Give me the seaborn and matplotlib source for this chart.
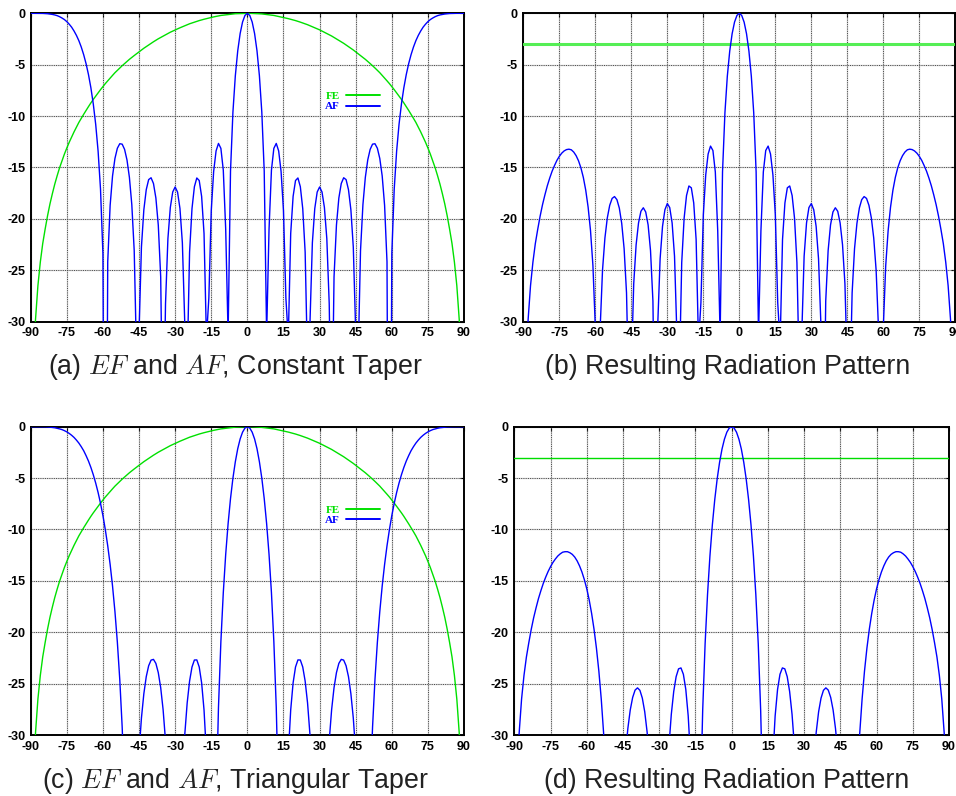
import numpy as np
import pandas as pd
import matplotlib
matplotlib.use("Agg")
import matplotlib.pyplot as plt
import seaborn as sns

# Observation angle in degrees, one sample per degree
angles = np.arange(-90, 91)

# Element factor (dB), shared by the two taper cases
element_factor = [
    -60.00, -36.00, -29.80, -26.50, -24.20, -22.40, -21.00, -19.70, -18.55, -17.55,
    -16.62, -15.80, -15.03, -14.35, -13.70, -13.11, -12.55, -12.04, -11.54, -11.07,
    -10.62, -10.22, -9.83, -9.45, -9.08, -8.72, -8.38, -8.06, -7.74, -7.43,
    -7.13, -6.84, -6.57, -6.30, -6.04, -5.78, -5.55, -5.32, -5.10, -4.89,
    -4.68, -4.48, -4.29, -4.11, -3.93, -3.75, -3.57, -3.40, -3.24, -3.08,
    -2.92, -2.77, -2.62, -2.48, -2.35, -2.21, -2.08, -1.96, -1.84, -1.73,
    -1.61, -1.51, -1.41, -1.31, -1.21, -1.11, -1.02, -0.94, -0.86, -0.78,
    -0.71, -0.64, -0.58, -0.52, -0.46, -0.40, -0.35, -0.30, -0.26, -0.21,
    -0.18, -0.14, -0.11, -0.09, -0.06, -0.04, -0.03, -0.02, -0.01, 0.00,
    0.00,
    0.00, -0.01, -0.02, -0.03, -0.04, -0.06, -0.09, -0.11, -0.14, -0.18,
    -0.21, -0.26, -0.30, -0.35, -0.40, -0.46, -0.52, -0.58, -0.64, -0.71,
    -0.78, -0.86, -0.94, -1.02, -1.11, -1.21, -1.31, -1.41, -1.51, -1.61,
    -1.73, -1.84, -1.96, -2.08, -2.21, -2.35, -2.48, -2.62, -2.77, -2.92,
    -3.08, -3.24, -3.40, -3.57, -3.75, -3.93, -4.11, -4.29, -4.48, -4.68,
    -4.89, -5.10, -5.32, -5.55, -5.78, -6.04, -6.30, -6.57, -6.84, -7.13,
    -7.43, -7.74, -8.06, -8.38, -8.72, -9.08, -9.45, -9.83, -10.22, -10.62,
    -11.07, -11.54, -12.04, -12.55, -13.11, -13.70, -14.35, -15.03, -15.80, -16.62,
    -17.55, -18.55, -19.70, -21.00, -22.40, -24.20, -26.50, -29.80, -36.00, -60.00,
]

# Array factor with a constant taper (dB)
af_constant = [
    0.00, 0.00, 0.00, 0.00, -0.01, -0.01, -0.02, -0.04, -0.07, -0.11,
    -0.16, -0.23, -0.33, -0.46, -0.61, -0.81, -1.06, -1.35, -1.72, -2.15,
    -2.66, -3.28, -4.02, -4.90, -5.96, -7.24, -8.82, -10.80, -13.41, -17.10,
    -23.37, -75.00, -24.18, -18.69, -15.82, -14.12, -13.13, -12.69, -12.73, -13.24,
    -14.27, -15.96, -18.61, -23.09, -33.76, -31.00, -22.74, -19.12, -17.16, -16.18,
    -16.00, -16.56, -17.97, -20.61, -25.64, -43.19, -28.26, -21.92, -18.89, -17.38,
    -16.90, -17.39, -18.99, -22.32, -30.14, -34.33, -23.23, -19.00, -16.87, -16.02,
    -16.27, -17.81, -21.42, -31.63, -27.70, -19.20, -15.38, -13.39, -12.66, -13.14,
    -15.26, -21.01, -31.28, -15.35, -9.62, -6.08, -3.65, -1.97, -0.85, -0.21,
    0.00,
    -0.21, -0.85, -1.97, -3.65, -6.08, -9.62, -15.35, -31.28, -21.01, -15.26,
    -13.14, -12.66, -13.39, -15.38, -19.20, -27.70, -31.63, -21.42, -17.81, -16.27,
    -16.02, -16.87, -19.00, -23.23, -34.33, -30.14, -22.32, -18.99, -17.39, -16.90,
    -17.38, -18.89, -21.92, -28.26, -43.19, -25.64, -20.61, -17.97, -16.56, -16.00,
    -16.18, -17.16, -19.12, -22.74, -31.00, -33.76, -23.09, -18.61, -15.96, -14.27,
    -13.24, -12.73, -12.69, -13.13, -14.12, -15.82, -18.69, -24.18, -75.00, -23.37,
    -17.10, -13.41, -10.80, -8.82, -7.24, -5.96, -4.90, -4.02, -3.28, -2.66,
    -2.15, -1.72, -1.35, -1.06, -0.81, -0.61, -0.46, -0.33, -0.23, -0.16,
    -0.11, -0.07, -0.04, -0.02, -0.01, -0.01, 0.00, 0.00, 0.00, 0.00,
]

# Resulting radiation pattern, constant taper (dB)
pattern_constant = [
    -60.00, -36.00, -29.80, -26.50, -24.21, -22.41, -21.02, -19.74, -18.62, -17.66,
    -16.78, -16.03, -15.36, -14.81, -14.31, -13.92, -13.61, -13.39, -13.26, -13.22,
    -13.28, -13.50, -13.85, -14.35, -15.04, -15.96, -17.20, -18.86, -21.15, -24.53,
    -30.50, -81.80, -30.75, -24.99, -21.86, -19.90, -18.68, -18.01, -17.83, -18.13,
    -18.95, -20.44, -22.90, -27.20, -37.69, -34.75, -26.31, -22.52, -20.40, -19.26,
    -18.92, -19.33, -20.59, -23.09, -27.99, -45.40, -30.34, -23.88, -20.73, -19.11,
    -18.51, -18.90, -20.40, -23.63, -31.35, -35.44, -24.25, -19.94, -17.73, -16.80,
    -16.98, -18.45, -22.00, -32.15, -28.16, -19.60, -15.73, -13.69, -12.92, -13.35,
    -15.44, -21.15, -31.39, -15.44, -9.68, -6.12, -3.68, -1.99, -0.86, -0.21,
    0.00,
    -0.21, -0.86, -1.99, -3.68, -6.12, -9.68, -15.44, -31.39, -21.15, -15.44,
    -13.35, -12.92, -13.69, -15.73, -19.60, -28.16, -32.15, -22.00, -18.45, -16.98,
    -16.80, -17.73, -19.94, -24.25, -35.44, -31.35, -23.63, -20.40, -18.90, -18.51,
    -19.11, -20.73, -23.88, -30.34, -45.40, -27.99, -23.09, -20.59, -19.33, -18.92,
    -19.26, -20.40, -22.52, -26.31, -34.75, -37.69, -27.20, -22.90, -20.44, -18.95,
    -18.13, -17.83, -18.01, -18.68, -19.90, -21.86, -24.99, -30.75, -81.80, -30.50,
    -24.53, -21.15, -18.86, -17.20, -15.96, -15.04, -14.35, -13.85, -13.50, -13.28,
    -13.22, -13.26, -13.39, -13.61, -13.92, -14.31, -14.81, -15.36, -16.03, -16.78,
    -17.66, -18.62, -19.74, -21.02, -22.41, -24.21, -26.50, -29.80, -36.00, -60.00,
]

# Array factor with a triangular taper (dB)
af_triangular = [
    0.00, 0.00, 0.00, 0.00, 0.00, -0.01, -0.01, -0.02, -0.04, -0.07,
    -0.10, -0.15, -0.21, -0.28, -0.38, -0.50, -0.65, -0.83, -1.04, -1.30,
    -1.59, -1.94, -2.33, -2.81, -3.34, -3.96, -4.67, -5.48, -6.40, -7.45,
    -8.64, -10.02, -11.59, -13.40, -15.51, -18.00, -20.97, -24.60, -29.22, -35.47,
    -45.08, -66.90, -61.00, -44.39, -36.60, -31.72, -28.35, -25.98, -24.32, -23.26,
    -22.71, -22.64, -23.03, -23.93, -25.39, -27.53, -30.55, -34.88, -41.41, -53.10,
    -100.00, -52.90, -41.07, -34.40, -29.96, -26.88, -24.75, -23.38, -22.70, -22.69,
    -23.38, -24.92, -27.56, -31.87, -39.33, -56.80, -57.40, -36.95, -27.31, -20.91,
    -16.15, -12.42, -9.43, -6.99, -5.01, -3.41, -2.14, -1.19, -0.53, -0.13,
    0.00,
    -0.13, -0.53, -1.19, -2.14, -3.41, -5.01, -6.99, -9.43, -12.42, -16.15,
    -20.91, -27.31, -36.95, -57.40, -56.80, -39.33, -31.87, -27.56, -24.92, -23.38,
    -22.69, -22.70, -23.38, -24.75, -26.88, -29.96, -34.40, -41.07, -52.90, -100.00,
    -53.10, -41.41, -34.88, -30.55, -27.53, -25.39, -23.93, -23.03, -22.64, -22.71,
    -23.26, -24.32, -25.98, -28.35, -31.72, -36.60, -44.39, -61.00, -66.90, -45.08,
    -35.47, -29.22, -24.60, -20.97, -18.00, -15.51, -13.40, -11.59, -10.02, -8.64,
    -7.45, -6.40, -5.48, -4.67, -3.96, -3.34, -2.81, -2.33, -1.94, -1.59,
    -1.30, -1.04, -0.83, -0.65, -0.50, -0.38, -0.28, -0.21, -0.15, -0.10,
    -0.07, -0.04, -0.02, -0.01, -0.01, 0.00, 0.00, 0.00, 0.00, 0.00,
]

# Resulting radiation pattern, triangular taper (dB)
pattern_triangular = [
    -60.00, -36.00, -29.80, -26.50, -24.20, -22.41, -21.01, -19.72, -18.59, -17.62,
    -16.72, -15.95, -15.24, -14.63, -14.08, -13.61, -13.20, -12.87, -12.58, -12.37,
    -12.21, -12.16, -12.16, -12.26, -12.42, -12.68, -13.05, -13.54, -14.14, -14.88,
    -15.77, -16.86, -18.16, -19.70, -21.55, -23.78, -26.52, -29.92, -34.32, -40.36,
    -49.76, -71.40, -65.30, -48.50, -40.53, -35.47, -31.92, -29.38, -27.56, -26.34,
    -25.63, -25.41, -25.65, -26.41, -27.74, -29.74, -32.63, -36.84, -43.25, -54.80,
    -100.00, -54.40, -42.48, -35.71, -31.17, -27.99, -25.77, -24.32, -23.56, -23.47,
    -24.09, -25.56, -28.14, -32.39, -39.79, -57.20, -57.75, -37.25, -27.57, -21.12,
    -16.33, -12.56, -9.54, -7.08, -5.07, -3.45, -2.17, -1.21, -0.53, -0.13,
    0.00,
    -0.13, -0.53, -1.21, -2.17, -3.45, -5.07, -7.08, -9.54, -12.56, -16.33,
    -21.12, -27.57, -37.25, -57.75, -57.20, -39.79, -32.39, -28.14, -25.56, -24.09,
    -23.47, -23.56, -24.32, -25.77, -27.99, -31.17, -35.71, -42.48, -54.40, -100.00,
    -54.80, -43.25, -36.84, -32.63, -29.74, -27.74, -26.41, -25.65, -25.41, -25.63,
    -26.34, -27.56, -29.38, -31.92, -35.47, -40.53, -48.50, -65.30, -71.40, -49.76,
    -40.36, -34.32, -29.92, -26.52, -23.78, -21.55, -19.70, -18.16, -16.86, -15.77,
    -14.88, -14.14, -13.54, -13.05, -12.68, -12.42, -12.26, -12.16, -12.16, -12.21,
    -12.37, -12.58, -12.87, -13.20, -13.61, -14.08, -14.63, -15.24, -15.95, -16.72,
    -17.62, -18.59, -19.72, -21.01, -22.41, -24.20, -26.50, -29.80, -36.00, -60.00,
]

# Half-power reference level (dB)
half_power_level = -3.0

x_ticks = [-90, -75, -60, -45, -30, -15, 0, 15, 30, 45, 60, 75, 90]
y_ticks = [0, -5, -10, -15, -20, -25, -30]

captions = [
    r"(a) $EF$ and $AF$, Constant Taper",
    r"(b) Resulting Radiation Pattern",
    r"(c) $EF$ and $AF$, Triangular Taper",
    r"(d) Resulting Radiation Pattern",
]

BLUE = "#0000ff"
GREEN = "#00e000"

sns.set_theme(style="white")
plt.rcParams["font.family"] = ["Liberation Sans", "DejaVu Sans"]
plt.rcParams["mathtext.fontset"] = "cm"

df = pd.DataFrame({
    "angle": angles,
    "EF": element_factor,
    "AF_const": af_constant,
    "P_const": pattern_constant,
    "AF_tri": af_triangular,
    "P_tri": pattern_triangular,
})

fig = plt.figure(figsize=(9.56, 7.96), dpi=100)

ax_a = fig.add_axes([0.0321, 0.5959, 0.4533, 0.3874])
ax_b = fig.add_axes([0.5474, 0.5959, 0.4519, 0.3874])
ax_c = fig.add_axes([0.0321, 0.0766, 0.4533, 0.3873])
ax_d = fig.add_axes([0.5380, 0.0766, 0.4547, 0.3873])

tick_font = {"family": "Liberation Sans", "weight": "bold", "size": 9}


def style_axes(ax):
    ax.set_xlim(-90, 90)
    ax.set_ylim(-30, 0)
    ax.set_xticks(x_ticks)
    ax.set_yticks(y_ticks)
    ax.set_xticklabels([str(t) for t in x_ticks], fontdict=tick_font)
    ax.set_yticklabels([str(t) for t in y_ticks], fontdict=tick_font)
    ax.set_xlabel("")
    ax.set_ylabel("")
    # light solid underlay plus dark dotted grid
    ax.grid(True, color="#d4d4d4", lw=1.0, ls="-")
    for t in x_ticks:
        ax.axvline(t, color="#444444", lw=0.7, ls=(0, (1, 1.3)), zorder=1)
    for t in y_ticks:
        ax.axhline(t, color="#444444", lw=0.7, ls=(0, (1, 1.3)), zorder=1)
    ax.set_axisbelow(True)
    for s in ax.spines.values():
        s.set_visible(True)
        s.set_color("black")
        s.set_linewidth(1.4)
    ax.tick_params(direction="in", length=3, width=0.8, top=True, right=True,
                   pad=4, colors="black")


def draw_factors(ax, af_col):
    sns.lineplot(data=df, x="angle", y="EF", ax=ax, color=GREEN, lw=1.0,
                 estimator=None, sort=False, label="FE", zorder=3)
    sns.lineplot(data=df, x="angle", y=af_col, ax=ax, color=BLUE, lw=1.0,
                 estimator=None, sort=False, label="AF", zorder=4)
    style_axes(ax)
    leg = ax.legend(loc="upper left", bbox_to_anchor=(0.666, 0.765),
                    frameon=False, markerfirst=False, handlelength=3.0,
                    handletextpad=0.6, labelspacing=0.05, borderpad=0,
                    prop={"family": "Liberation Serif", "weight": "bold", "size": 8})
    for text, line in zip(leg.get_texts(), leg.get_lines()):
        text.set_color(line.get_color())
        line.set_linewidth(1.4)


def draw_pattern(ax, col, ref_color, ref_lw):
    sns.lineplot(data=df, x="angle", y=col, ax=ax, color=BLUE, lw=1.0,
                 estimator=None, sort=False, zorder=4)
    ax.axhline(half_power_level, color=ref_color, lw=ref_lw, zorder=3)
    style_axes(ax)
    if ax.get_legend() is not None:
        ax.get_legend().remove()


draw_factors(ax_a, "AF_const")
draw_pattern(ax_b, "P_const", "#55ee55", 2.2)
draw_factors(ax_c, "AF_tri")
draw_pattern(ax_d, "P_tri", "#00dd00", 1.0)

caption_kw = dict(ha="center", va="center", fontsize=19.3, color="#222222",
                  family="Liberation Sans")
fig.text(0.2458, 0.5389, captions[0], **caption_kw)
fig.text(0.7615, 0.5389, captions[1], **caption_kw)
fig.text(0.2458, 0.0188, captions[2], **caption_kw)
fig.text(0.7605, 0.0188, captions[3], **caption_kw)

fig.savefig("out.png", dpi=100, facecolor="white")
